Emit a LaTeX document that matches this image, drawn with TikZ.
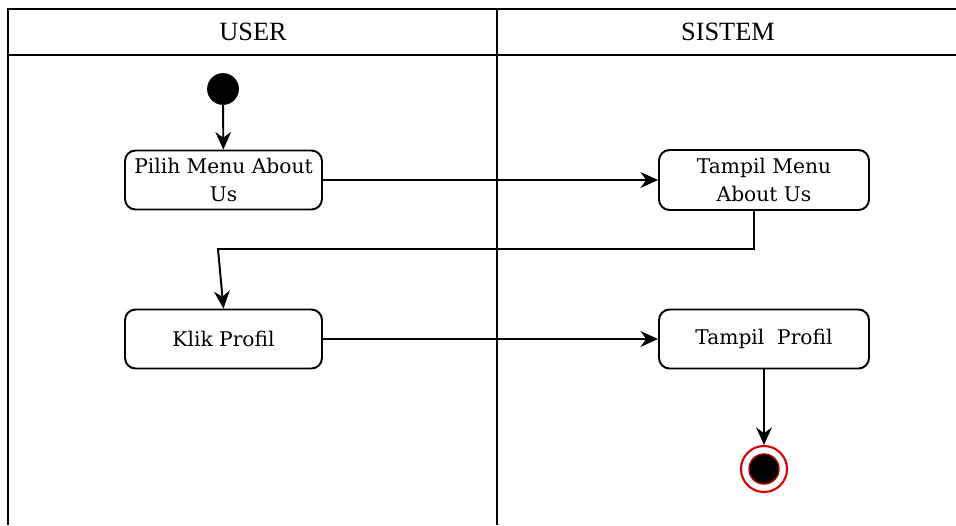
\documentclass[tikz,border=0pt]{standalone}
\usepackage{fontspec}
\setmainfont{Liberation Serif}
\newfontfamily\boxfont{DejaVu Serif}
\usetikzlibrary{arrows.meta}
\tikzset{
  lane/.style={line width=1.1pt},
  actbox/.style={draw,rounded corners=6pt,line width=1.1pt,align=center,
    minimum width=3.94cm,minimum height=1.18cm,inner sep=2pt,
    font=\boxfont\fontsize{11.5}{16}\selectfont},
  flow/.style={-{Stealth[length=10pt,width=9pt]},line width=1.1pt}
}
\begin{document}
\begin{tikzpicture}[x=0.02cm,y=-0.02cm]
\useasboundingbox (0,0) rectangle (956,525);
% the swimlanes
\draw[lane] (956,9) -- (8,9) -- (8,525);
\draw[lane] (8,55) -- (956,55);
\draw[lane] (497,9) -- (497,525);
\node[font=\fontsize{15}{17}\selectfont] (user) at (253,32) {USER};
\node[font=\fontsize{15}{17}\selectfont] (sistem) at (728,32) {SISTEM};
% start and end
\node[fill=black,draw=black,circle,inner sep=0pt,minimum size=0.62cm] (start) at (223,89) {};
\node[draw=red!85!black,line width=1.2pt,circle,inner sep=0pt,minimum size=0.92cm] (end) at (764,469) {};
\node[fill=black,draw=red!70!black,line width=0.8pt,circle,inner sep=0pt,minimum size=0.6cm] (endin) at (764,469) {};
% the activities
\node[actbox] (pilih) at (223.5,180) {Pilih Menu About\\Us};
\node[actbox,minimum width=4.2cm,minimum height=1.2cm] (tmenu) at (764,180) {Tampil Menu\\About Us};
\node[actbox] (klik) at (223.5,339) {Klik Profil};
\node[actbox,minimum width=4.2cm] (tprofil) at (764,339) {Tampil\ \ Profil};
% the flow
\draw[flow] (start) -- (pilih);
\draw[flow] (pilih) -- (tmenu);
\draw[flow] ([xshift=-0.2cm]tmenu.south) |- (218,249) -- (klik.north);
\draw[flow] (klik) -- (tprofil);
\draw[flow] (tprofil) -- (end);
\end{tikzpicture}
\end{document}
